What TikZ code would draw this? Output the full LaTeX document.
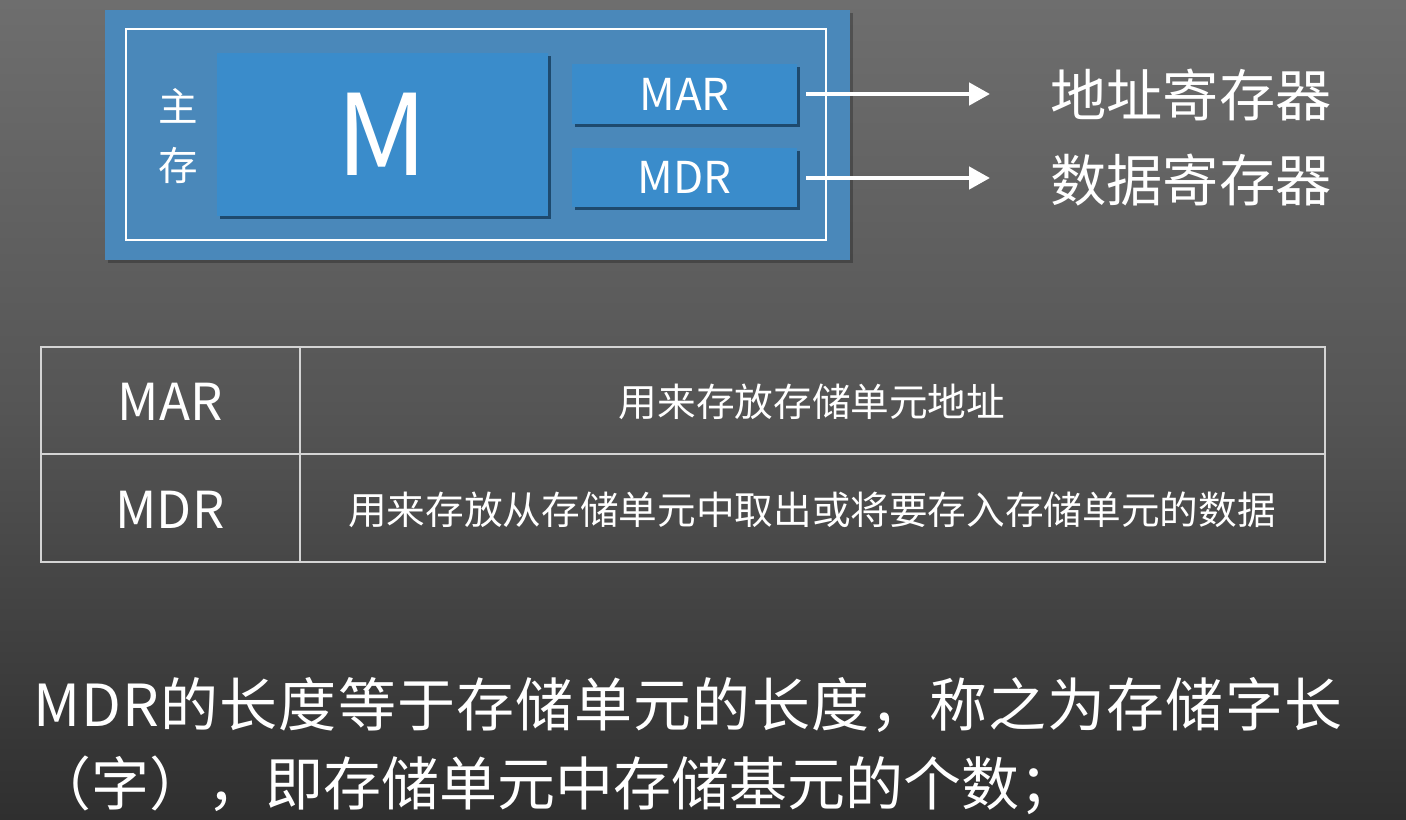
\documentclass[tikz,border=0pt]{standalone}
\usepackage{fontspec}
\setmainfont{Noto Sans CJK SC}
\usetikzlibrary{arrows.meta}

\definecolor{bgtop}{HTML}{6E6E6E}
\definecolor{bgmid}{HTML}{555555}
\definecolor{bgbot}{HTML}{2F2F2F}
\definecolor{outerblue}{HTML}{4A88BA}
\definecolor{cellblue}{HTML}{3A8CCB}
\definecolor{cellshadow}{HTML}{1E4A6E}
\definecolor{gridline}{HTML}{D4D4D4}

\newcommand{\fsz}[1]{\fontsize{#1}{1.2\dimexpr#1\relax}\selectfont}

\tikzset{
  px/.style={x=0.02cm,y=-0.02cm},
  cell/.style={draw=none,fill=cellblue,inner sep=0pt,text=white},
  cellshade/.style={fill=cellshadow},
  label/.style={text=white,inner sep=0pt},
  pointer/.style={draw=white,line width=2.6pt,-{Triangle[length=0.42cm,width=0.44cm]}},
  grid/.style={draw=gridline,line width=0.6pt},
}

\begin{document}
\begin{tikzpicture}[px]
  \useasboundingbox (0,0) rectangle (1406,819);

  % background
  \shade[top color=bgtop,bottom color=bgbot,middle color=bgmid] (0,0) rectangle (1406,819);

  % main memory block
  \fill[black,opacity=0.25] (108,13) rectangle (853,263);
  \fill[outerblue] (105,10) rectangle (850,260);
  \draw[white,line width=1.3pt] (126,29) rectangle (826,240);

  % cells with drop shadows
  \fill[cellshade] (220,56) rectangle (551,219);
  \node[cell,minimum width=6.62cm,minimum height=3.26cm,font=\fsz{64pt}] (m) at (382.5,134.5) {M};
  \fill[cellshade] (575,67) rectangle (800,127);
  \node[cell,minimum width=4.5cm,minimum height=1.2cm,font=\fsz{25pt}] (mar) at (684.5,94) {MAR};
  \fill[cellshade] (575,151) rectangle (800,210);
  \node[cell,minimum width=4.5cm,minimum height=1.18cm,font=\fsz{25pt}] (mdr) at (684.5,177.5) {MDR};

  \node[label,font=\fsz{22.5pt}] (zhu) at (178,106) {主};
  \node[label,font=\fsz{22.5pt}] (cun) at (178,165) {存};

  % pointers to register names
  \coordinate (tipA) at (990,94);
  \coordinate (tipD) at (990,178);
  \draw[pointer] ([xshift=0.18cm]mar.east) -- (tipA);
  \draw[pointer] ([xshift=0.18cm]mdr.east |- tipD) -- (tipD);
  \node[label,font=\fsz{32pt},anchor=west] (addr) at (1050,95) {地址寄存器};
  \node[label,font=\fsz{32pt},anchor=west] (data) at (1050,180) {数据寄存器};

  % register table
  \draw[draw=gridline,line width=1.1pt] (41,347) rectangle (1325,562);
  \draw[grid] (300,347) -- (300,562);
  \draw[grid] (41,454) -- (1325,454);
  \node[label,font=\fsz{29pt}] (tmar) at (170,402) {MAR};
  \node[label,font=\fsz{29pt}] (tmdr) at (170,510) {MDR};
  \node[label,font=\fsz{22pt}] (dmar) at (812,402) {用来存放存储单元地址};
  \node[label,font=\fsz{22pt}] (dmdr) at (812,510) {用来存放从存储单元中取出或将要存入存储单元的数据};

  % explanation
  \node[label,font=\fsz{33pt},anchor=west] (line1) at (33,705) {\addfontfeature{LetterSpace=2}MDR的长度等于存储单元的长度，称之为存储字长};
  \node[label,font=\fsz{33pt},anchor=west] (line2) at (33,785) {（字），即存储单元中存储基元的个数；};
\end{tikzpicture}
\end{document}
